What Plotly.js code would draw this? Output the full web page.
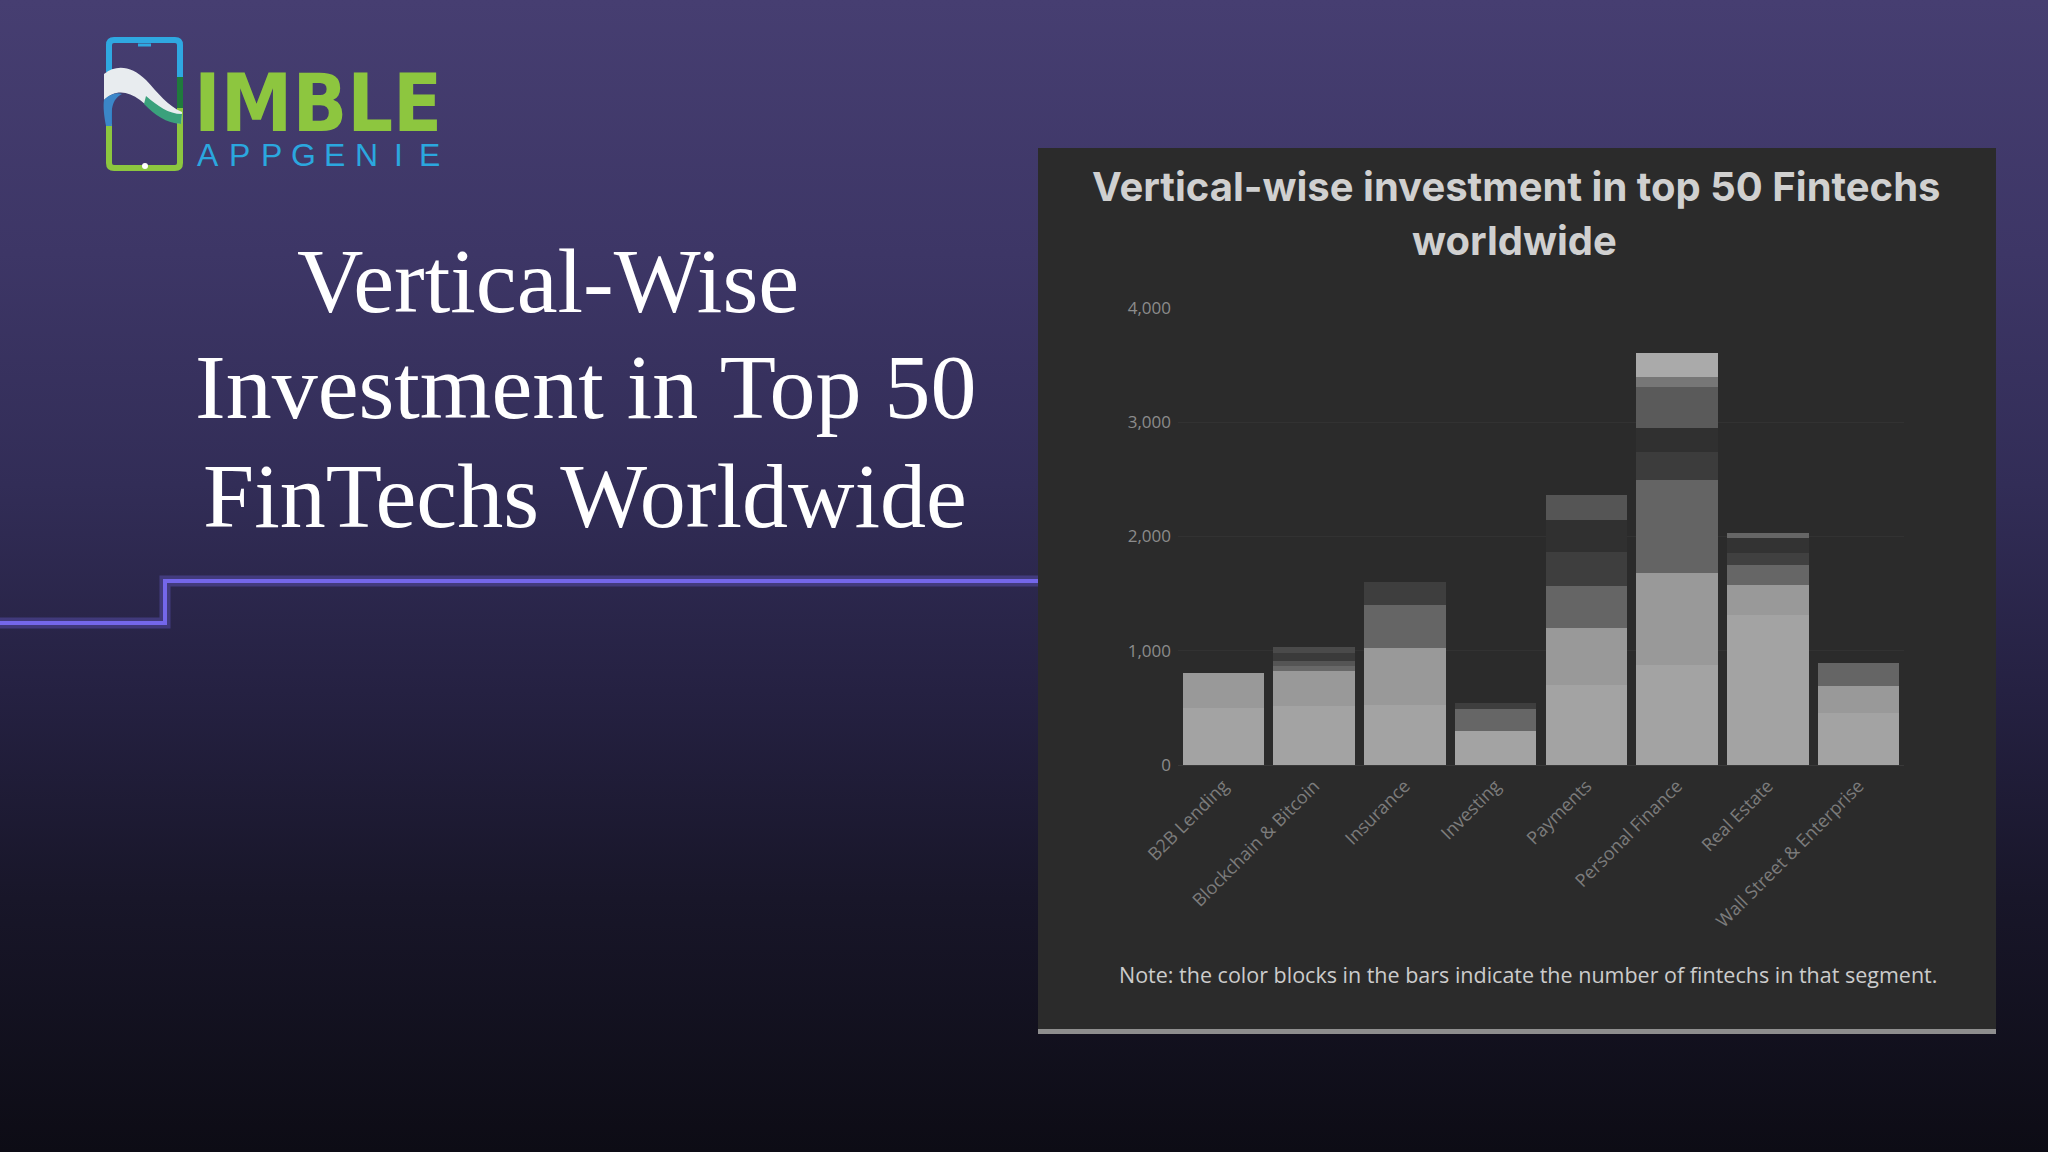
<!DOCTYPE html>
<html>
<head>
<meta charset="utf-8">
<script src="https://cdn.plot.ly/plotly-3.0.1.min.js"></script>
<style>
  html, body { margin: 0; padding: 0; width: 2048px; height: 1152px; overflow: hidden; }
  body { background: linear-gradient(180deg, #463e71 0%, #3d3666 22%, #322d57 42%, #252142 60%, #181629 78%, #0d0c15 100%); }
  #chart { width: 2048px; height: 1152px; }
</style>
</head>
<body>
<div id="chart"></div>
<script>
// ---- data ----
const categories = ["B2B Lending", "Blockchain & Bitcoin", "Insurance", "Investing",
                    "Payments", "Personal Finance", "Real Estate", "Wall Street & Enterprise"];
// stacked colour blocks, bottom (block 1) to top (block 8), in $M
const block1 = [496, 516, 525, 300, 700, 875, 1313, 452];
const block2 = [307, 309, 496, 192, 496, 808, 262, 239];
const block3 = [0, 44, 379, 55, 371, 811, 176, 204];
const block4 = [0, 44, 205, 0, 300, 248, 102, 0];
const block5 = [0, 70, 0, 0, 277, 205, 131, 0];
const block6 = [0, 50, 0, 0, 219, 364, 49, 0];
const block7 = [0, 0, 0, 0, 0, 88, 0, 0];
const block8 = [0, 0, 0, 0, 0, 205, 0, 0];
const yTickVals = [0, 1000, 2000, 3000, 4000];
const yTickText = ["0", "1,000", "2,000", "3,000", "4,000"];
const chartTitle = ["Vertical-wise investment in top 50 Fintechs", "worldwide"];
const noteText = "Note: the color blocks in the bars indicate the number of fintechs in that segment.";
const slideTitle = ["Vertical-Wise", "Investment in Top 50", "FinTechs Worldwide"];

// ---- styles ----
const blockColors = [
  Array(8).fill("#a3a3a3"),
  ["#999999", "#999999", "#999999", "#666666", "#999999", "#999999", "#999999", "#999999"],
  ["#666666", "#686868", "#656565", "#3e3e3e", "#656565", "#646464", "#666666", "#656565"],
  ["#444444", "#555555", "#3e3e3e", "#444444", "#3e3e3e", "#3c3c3c", "#404040", "#444444"],
  ["#333333", "#3a3a3a", "#333333", "#333333", "#303030", "#303030", "#333333", "#333333"],
  ["#555555", "#4a4a4a", "#555555", "#555555", "#555555", "#5a5a5a", "#666666", "#555555"],
  Array(8).fill("#777777"),
  Array(8).fill("#aaaaaa")
];
const blocks = [block1, block2, block3, block4, block5, block6, block7, block8];

const W = 2048, H = 1152;
const X = p => p / W;
const Y = p => 1 - p / H;
const P = s => s.replace(/(-?\d+(?:\.\d+)?),(-?\d+(?:\.\d+)?)/g, (m, a, b) => X(+a) + "," + Y(+b));

const traces = blocks.map((vals, i) => ({
  type: "bar",
  x: categories,
  y: vals,
  name: "Block " + (i + 1),
  marker: { color: blockColors[i], line: { width: 0 } },
  hoverinfo: "skip",
  showlegend: false
}));

const shapes = [
  // chart panel
  { type: "rect", xref: "paper", yref: "paper", x0: X(1038), x1: X(1996), y0: Y(1030), y1: Y(148),
    fillcolor: "#2b2b2b", line: { width: 0 }, layer: "below" },
  { type: "rect", xref: "paper", yref: "paper", x0: X(1038), x1: X(1996), y0: Y(1034), y1: Y(1029),
    fillcolor: "#8e8e8e", line: { width: 0 }, layer: "below" },
  // purple step line (glow + line)
  { type: "path", xref: "paper", yref: "paper", path: P("M0,623 L165,623 L165,581 L1038,581"),
    line: { color: "rgba(120,106,240,0.30)", width: 11 }, layer: "below" },
  { type: "path", xref: "paper", yref: "paper", path: P("M0,623 L165,623 L165,581 L1038,581"),
    line: { color: "#7467ea", width: 4 }, layer: "below" },
  // logo: phone outline
  { type: "path", xref: "paper", yref: "paper", path: P("M109,72 L109,45 Q109,40 114,40 L175,40 Q180,40 180,45 L180,77"),
    line: { color: "#2fa8e1", width: 6 } },
  { type: "path", xref: "paper", yref: "paper", path: P("M180,77 L180,108"),
    line: { color: "#1f7a3c", width: 6 } },
  { type: "path", xref: "paper", yref: "paper", path: P("M109,96 L109,124"),
    line: { color: "#2a7fc4", width: 6 } },
  { type: "path", xref: "paper", yref: "paper", path: P("M109,124 L109,163 Q109,168 114,168 L175,168 Q180,168 180,163 L180,108"),
    line: { color: "#8cc63f", width: 6 } },
  { type: "path", xref: "paper", yref: "paper", path: P("M138,45 L151,45"),
    line: { color: "#2fa8e1", width: 3 } },
  { type: "circle", xref: "paper", yref: "paper", x0: X(142), x1: X(148), y0: Y(169), y1: Y(163),
    fillcolor: "#ffffff", line: { width: 0 } },
  // logo: swoosh
  { type: "path", xref: "paper", yref: "paper",
    path: P("M104,74 C116,64 132,66 146,80 C158,93 168,106 182,112 L181,124 C166,122 152,110 140,100 C127,90 114,90 104,100 Z"),
    fillcolor: "#e8ecef", line: { width: 0 } },
  { type: "path", xref: "paper", yref: "paper",
    path: P("M146,96 C158,106 168,114 182,114 L181,124 C166,123 155,115 144,104 Z"),
    fillcolor: "#3aa17c", line: { width: 0 } },
  { type: "path", xref: "paper", yref: "paper",
    path: P("M104,100 C110,94 116,92 122,94 C114,98 110,106 112,126 L106,126 C104,116 103,106 104,100 Z"),
    fillcolor: "#3b86c8", line: { width: 0 } }
];

const annotations = [];
// chart title lines
const titleFont = { family: "Inter, 'Open Sans', sans-serif", size: 40, weight: 700, color: "#d0d0d0" };
annotations.push({ xref: "paper", yref: "paper", x: X(1516), y: Y(187), xanchor: "center", yanchor: "middle",
  text: chartTitle[0], showarrow: false, font: titleFont });
annotations.push({ xref: "paper", yref: "paper", x: X(1514), y: Y(240), xanchor: "center", yanchor: "middle",
  text: chartTitle[1], showarrow: false, font: titleFont });
// note
annotations.push({ xref: "paper", yref: "paper", x: X(1528), y: Y(974), xanchor: "center", yanchor: "middle",
  text: noteText, showarrow: false, font: { family: "'Open Sans', sans-serif", size: 21.5, color: "#cccccc" } });
// slide title
const titleX = [548, 585, 585], titleY = [281, 387, 496];
slideTitle.forEach((t, i) => annotations.push({ xref: "paper", yref: "paper", x: X(titleX[i]), y: Y(titleY[i]),
  xanchor: "center", yanchor: "middle", text: t, showarrow: false,
  font: { family: "'Liberation Serif', 'Times New Roman', serif", size: 92, color: "#ffffff" } }));
// logo text
annotations.push({ xref: "paper", yref: "paper", x: X(192), y: Y(103), xanchor: "left", yanchor: "middle",
  height: 62, valign: "middle",
  text: "IMBLE", showarrow: false, font: { family: "'DejaVu Sans Condensed', 'DejaVu Sans', sans-serif", size: 80, weight: 700, color: "#8dc63f" } });
"APPGENIE".split("").forEach((ch, i) => annotations.push({ xref: "paper", yref: "paper", x: X(208 + i * 31.7), y: Y(155),
  xanchor: "center", yanchor: "middle", text: ch, showarrow: false,
  font: { family: "'Liberation Sans', Arial, sans-serif", size: 32, color: "#2ba7df" } }));

const layout = {
  width: W, height: H,
  margin: { l: 0, r: 0, t: 0, b: 0 },
  paper_bgcolor: "rgba(0,0,0,0)",
  plot_bgcolor: "rgba(0,0,0,0)",
  barmode: "stack",
  bargap: 0.1,
  showlegend: false,
  xaxis: {
    domain: [X(1178), X(1904)],
    tickangle: -45,
    tickfont: { family: "'Open Sans', sans-serif", size: 18, color: "#7c7c7c" },
    showgrid: false, zeroline: false, showline: false, ticks: "", ticklabelstandoff: 6,
    automargin: false, fixedrange: true
  },
  yaxis: {
    domain: [Y(765), Y(308)],
    range: [0, 4000],
    tickvals: yTickVals, ticktext: yTickText,
    tickfont: { family: "'Open Sans', sans-serif", size: 17, color: "#8c8c8c" },
    showgrid: true, gridcolor: "#323232", gridwidth: 1,
    zeroline: true, zerolinecolor: "#393939",
    ticks: "", ticklabelstandoff: 6, automargin: false, fixedrange: true
  },
  shapes: shapes,
  annotations: annotations
};

Plotly.newPlot("chart", traces, layout, { displayModeBar: false, staticPlot: true });
</script>
</body>
</html>
